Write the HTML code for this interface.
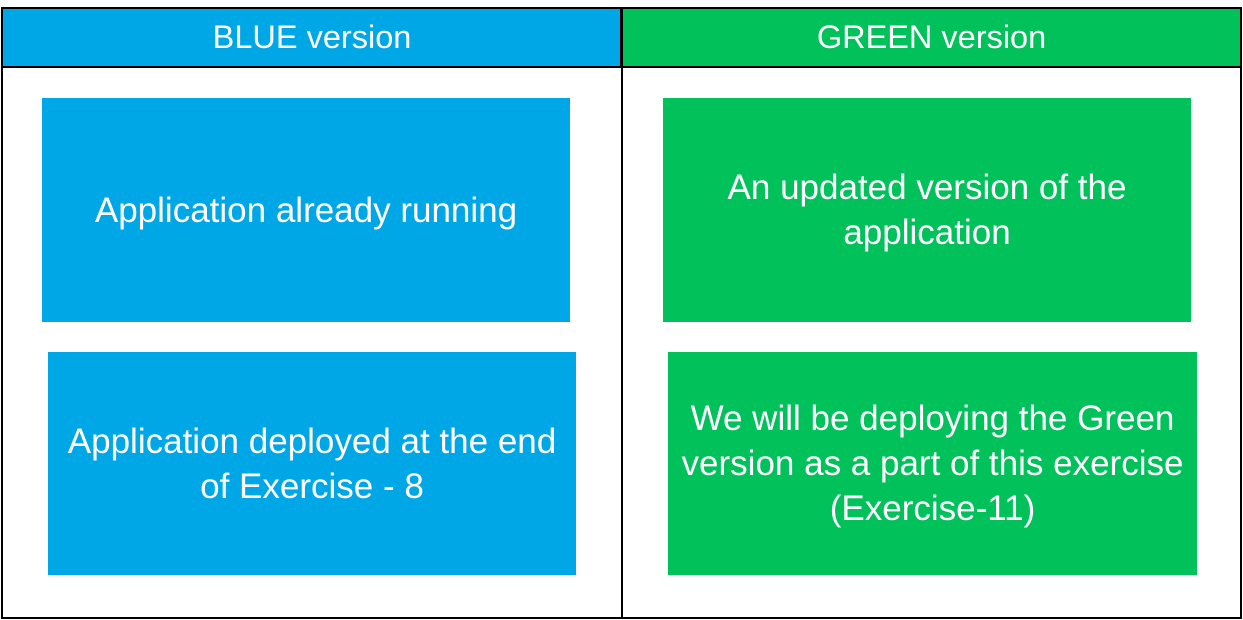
<!DOCTYPE html>
<html><head><meta charset="utf-8"><style>
html,body{margin:0;padding:0;background:#fff;}
body{width:1243px;height:620px;position:relative;overflow:hidden;font-family:"Liberation Sans",sans-serif;}
.a{position:absolute;box-sizing:border-box;}
.blue{background:#00A7E6;}
.green{background:#00C15A;}
.box{display:flex;align-items:center;justify-content:center;text-align:center;color:#fff;font-size:35px;line-height:45px;}
.hd{font-size:32.5px;}
</style></head><body>
<div class="a blue box hd" style="left:2px;top:8px;width:620px;height:59px;">BLUE version</div>
<div class="a green box hd" style="left:622px;top:8px;width:619px;height:59px;">GREEN version</div>
<div class="a" style="left:1px;top:7px;width:1241px;height:612px;border:2px solid #000;"></div>
<div class="a" style="left:1px;top:66px;width:1241px;height:2px;background:#000;"></div>
<div class="a" style="left:620px;top:7px;width:3px;height:61px;background:#000;"></div>
<div class="a" style="left:621px;top:67px;width:1.5px;height:552px;background:#000;"></div>

<div class="a blue box" style="left:42px;top:98px;width:528px;height:224px;">Application already running</div>
<div class="a blue box" style="left:48px;top:352px;width:528px;height:223px;">Application deployed at the end<br>of Exercise - 8</div>
<div class="a green box" style="left:663px;top:98px;width:528px;height:224px;">An updated version of the<br>application</div>
<div class="a green box" style="left:668px;top:352px;width:529px;height:223px;">We will be deploying the Green<br>version as a part of this exercise<br>(Exercise-11)</div>
</body></html>
